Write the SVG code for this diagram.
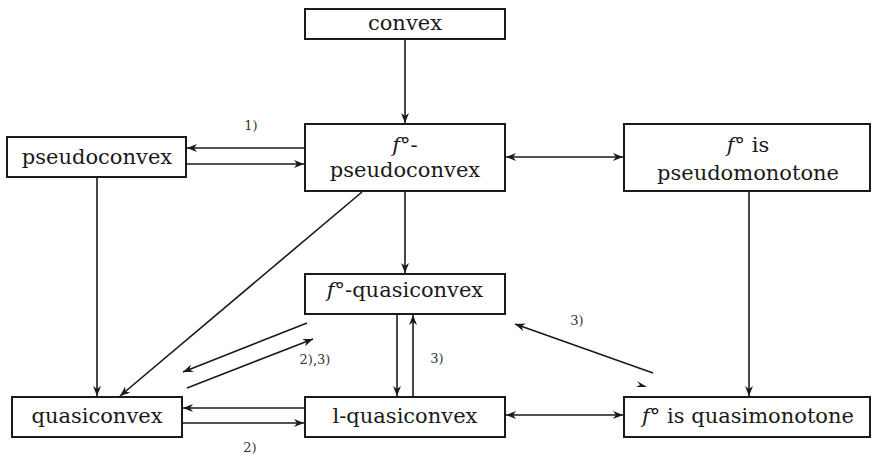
<svg xmlns="http://www.w3.org/2000/svg" width="872" height="455" viewBox="0 0 872 455">
<defs>
<style>
.box{fill:#fff;stroke:#1a1a1a;stroke-width:2}
.t{font-family:'DejaVu Serif','Liberation Serif',serif;font-size:21px;fill:#1a1a1a;text-anchor:middle}
.i{font-style:italic}
.lab{font-family:'DejaVu Serif','Liberation Serif',serif;font-size:13px;fill:#333;text-anchor:middle}
.c{fill:none;stroke:#1a1a1a;stroke-width:1.6}
.a{marker-end:url(#ah)}
.d{marker-start:url(#ah);marker-end:url(#ah)}
</style>
<marker id="ah" viewBox="0 0 10 8" refX="10" refY="4" markerWidth="10" markerHeight="8" markerUnits="userSpaceOnUse" orient="auto-start-reverse">
<path d="M0,0 L10,4 L0,8 L3,4 Z" fill="#1a1a1a"/>
</marker>
</defs>
<rect width="872" height="455" fill="#fff"/>
<g id="connectors">
<line class="c a" x1="405" y1="39" x2="405" y2="123"/>
<line class="c a" x1="305" y1="148" x2="187" y2="148"/>
<line class="c a" x1="186" y1="164" x2="304" y2="164"/>
<line class="c d" x1="506" y1="157" x2="623" y2="157"/>
<line class="c a" x1="97" y1="177" x2="97" y2="396"/>
<line class="c a" x1="362" y1="192" x2="120" y2="396"/>
<line class="c a" x1="405" y1="191" x2="405" y2="273"/>
<line class="c a" x1="749" y1="191" x2="749" y2="396"/>
<line class="c a" x1="397" y1="314" x2="397" y2="396"/>
<line class="c a" x1="413" y1="397" x2="413" y2="315"/>
<line class="c a" x1="307" y1="323" x2="183" y2="372"/>
<line class="c a" x1="187" y1="388" x2="313" y2="339"/>
<line class="c a" x1="653" y1="373" x2="515" y2="324"/>
<path d="M637,381 L647,387 L636,387 L640,385 Z" fill="#1a1a1a"/>
<line class="c a" x1="305" y1="408" x2="183" y2="408"/>
<line class="c a" x1="182" y1="423" x2="304" y2="423"/>
<line class="c d" x1="506" y1="415" x2="623" y2="415"/>
<text class="lab" x="251" y="130">1)</text>
<text class="lab" x="315" y="364">2),3)</text>
<text class="lab" x="437" y="363">3)</text>
<text class="lab" x="577" y="325">3)</text>
<text class="lab" x="250" y="452">2)</text>
</g>
<g id="convex">
<rect class="box" x="305" y="9" width="200" height="30"/>
<text class="t" x="405" y="30">convex</text>
</g>
<g id="pseudoconvex">
<rect class="box" x="7" y="137" width="179" height="40"/>
<text class="t" x="97" y="164">pseudoconvex</text>
</g>
<g id="fpseudoconvex">
<rect class="box" x="305" y="124" width="200" height="67"/>
<text class="t" x="405" y="152"><tspan class="i">f</tspan>°-</text>
<text class="t" x="405" y="177">pseudoconvex</text>
</g>
<g id="pseudomonotone">
<rect class="box" x="624" y="124" width="246" height="67"/>
<text class="t" x="748" y="152"><tspan class="i">f</tspan>° is</text>
<text class="t" x="748" y="180">pseudomonotone</text>
</g>
<g id="fquasiconvex">
<rect class="box" x="305" y="274" width="200" height="40"/>
<text class="t" x="405" y="297"><tspan class="i">f</tspan>°-quasiconvex</text>
</g>
<g id="quasiconvex">
<rect class="box" x="12" y="397" width="170" height="40"/>
<text class="t" x="97" y="423">quasiconvex</text>
</g>
<g id="lquasiconvex">
<rect class="box" x="305" y="397" width="200" height="40"/>
<text class="t" x="405" y="423">l-quasiconvex</text>
</g>
<g id="quasimonotone">
<rect class="box" x="624" y="397" width="246" height="40"/>
<text class="t" x="748" y="423"><tspan class="i">f</tspan>° is quasimonotone</text>
</g>
</svg>
